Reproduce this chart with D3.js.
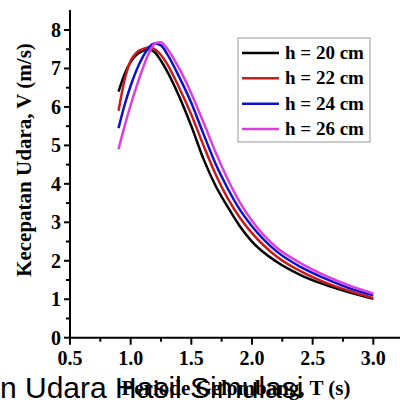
<!DOCTYPE html>
<html>
<head>
<meta charset="utf-8">
<script src="https://cdn.jsdelivr.net/npm/d3@7/dist/d3.min.js"></script>
<style>
html,body{margin:0;padding:0;background:#fff;}
svg{display:block;}
</style>
</head>
<body>
<svg id="chart" width="400" height="408"></svg>
<script>
// ---- data ----
const periods = [0.9,0.95,1.0,1.05,1.1,1.15,1.2,1.25,1.3,1.4,1.5,1.6,1.7,1.8,1.9,2.0,2.2,2.4,2.6,2.8,3.0];
const seriesNames = ["h = 20 cm","h = 22 cm","h = 24 cm","h = 26 cm"];
const seriesColors = ["#000000","#cc1a1a","#1010cc","#dd3ee0"];
const h20 = [6.4,6.85,7.17,7.36,7.46,7.5,7.42,7.2,6.93,6.27,5.5,4.65,3.95,3.4,2.9,2.5,1.98,1.63,1.38,1.18,1.01];
const h22 = [5.9,6.7,7.2,7.42,7.5,7.55,7.5,7.35,7.12,6.5,5.8,5.0,4.25,3.62,3.12,2.72,2.12,1.73,1.44,1.22,1.03];
const h24 = [5.45,6.05,6.55,6.97,7.3,7.55,7.65,7.6,7.38,6.78,6.1,5.3,4.52,3.88,3.33,2.9,2.25,1.84,1.54,1.29,1.1];
const h26 = [4.9,5.5,6.05,6.55,7.0,7.4,7.65,7.68,7.52,7.0,6.35,5.6,4.82,4.12,3.52,3.04,2.35,1.94,1.62,1.36,1.15];
const seriesValues = [h20,h22,h24,h26];
const xTicks = [0.5,1.0,1.5,2.0,2.5,3.0];
const yTicks = [0,1,2,3,4,5,6,7,8];
const yTitle = "Kecepatan Udara, V (m/s)";
const xTitle = "Periode Gelombang, T (s)";
const caption = "n Udara Hasil Simulasi";

// ---- layout ----
const svg = d3.select("#chart");
const x = d3.scaleLinear().domain([0.5, 3.22]).range([70, 400]);
const y = d3.scaleLinear().domain([0, 8.52]).range([337.7, 10]);
const serif = "'Liberation Serif','Times New Roman',serif";

// axes
const xAxis = svg.append("g").attr("transform","translate(0,337.7)");
xAxis.append("line").attr("x1",70).attr("x2",400).attr("stroke","#000").attr("stroke-width",2);
const xMinor = d3.range(0.75, 3.1, 0.5);
xAxis.selectAll(".xm").data(xMinor).join("line")
  .attr("x1",d=>x(d)).attr("x2",d=>x(d)).attr("y1",0).attr("y2",4)
  .attr("stroke","#000").attr("stroke-width",2);
xAxis.selectAll(".xt").data(xTicks).join("line")
  .attr("x1",d=>x(d)).attr("x2",d=>x(d)).attr("y1",0).attr("y2",7)
  .attr("stroke","#000").attr("stroke-width",2);
xAxis.selectAll(".xl").data(xTicks).join("text")
  .attr("x",d=>x(d)).attr("y",27).attr("text-anchor","middle")
  .attr("font-family",serif).attr("font-weight","bold").attr("font-size",20)
  .text(d=>d.toFixed(1));

const yAxis = svg.append("g").attr("transform","translate(70,0)");
yAxis.append("line").attr("y1",10).attr("y2",338.7).attr("stroke","#000").attr("stroke-width",2);
const yMinor = d3.range(0.5, 8.1, 1);
yAxis.selectAll(".ym").data(yMinor).join("line")
  .attr("y1",d=>y(d)).attr("y2",d=>y(d)).attr("x1",0).attr("x2",-4)
  .attr("stroke","#000").attr("stroke-width",2);
yAxis.selectAll(".yt").data(yTicks).join("line")
  .attr("y1",d=>y(d)).attr("y2",d=>y(d)).attr("x1",0).attr("x2",-6)
  .attr("stroke","#000").attr("stroke-width",2);
yAxis.selectAll(".yl").data(yTicks).join("text")
  .attr("x",-9).attr("y",d=>y(d)+7).attr("text-anchor","end")
  .attr("font-family",serif).attr("font-weight","bold").attr("font-size",20)
  .text(d=>d);

// y title
svg.append("text")
  .attr("transform","translate(31,160) rotate(-90)")
  .attr("text-anchor","middle")
  .attr("font-family",serif).attr("font-weight","bold").attr("font-size",21)
  .text(yTitle);

// lines
const line = d3.line().x((d,i)=>x(periods[i])).y(d=>y(d)).curve(d3.curveMonotoneX);
svg.selectAll(".series").data(seriesValues).join("path")
  .attr("d",d=>line(d)).attr("fill","none")
  .attr("stroke",(d,i)=>seriesColors[i]).attr("stroke-width",2.5);

// legend
const lg = svg.append("g");
lg.append("rect").attr("x",238).attr("y",38).attr("width",132).attr("height",104)
  .attr("fill","#fff").attr("stroke","#999").attr("stroke-width",1);
const ly = d3.scaleLinear().domain([0,3]).range([53,129]);
seriesNames.forEach((n,i)=>{
  lg.append("line").attr("x1",242).attr("x2",279).attr("y1",ly(i)).attr("y2",ly(i))
    .attr("stroke",seriesColors[i]).attr("stroke-width",2.5);
  lg.append("text").attr("x",285).attr("y",ly(i)+6)
    .attr("font-family",serif).attr("font-weight","bold").attr("font-size",19)
    .text(n);
});

// x title
svg.append("text").attr("x",236).attr("y",395).attr("text-anchor","middle")
  .attr("font-family",serif).attr("font-weight","bold").attr("font-size",21)
  .text(xTitle);

// overlapping caption (as in the reference, it overlaps the axis title)
svg.append("text").attr("x",0).attr("y",398)
  .attr("font-family","'Liberation Sans',Arial,sans-serif").attr("font-size",30)
  .attr("fill","#000")
  .text(caption);
</script>
</body>
</html>
